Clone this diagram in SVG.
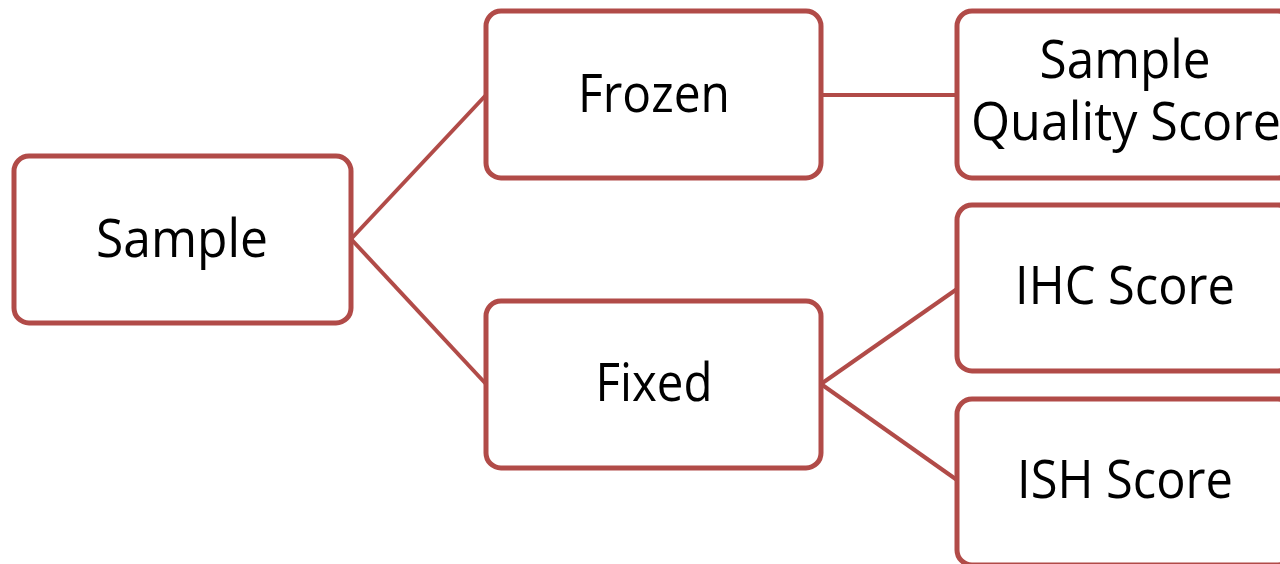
<svg xmlns="http://www.w3.org/2000/svg" width="1280" height="564" viewBox="0 0 1280 564">
  <style>
    .box { fill: #ffffff; stroke: #b14b48; stroke-width: 5; }
    .link { stroke: #b14b48; stroke-width: 4; fill: none; }
    .label { font-family: "Open Sans", "Noto Sans", "Liberation Sans", sans-serif; font-size: 53px; fill: #000000; text-anchor: middle; }
  </style>
  <rect width="1280" height="564" fill="#ffffff"/>

  <!-- connectors between the tree levels -->
  <g id="connectors">
    <line class="link" x1="351" y1="239" x2="486" y2="95"/>
    <line class="link" x1="351" y1="239" x2="486" y2="384"/>
    <line class="link" x1="821" y1="95" x2="957" y2="95"/>
    <line class="link" x1="821" y1="384" x2="957" y2="289"/>
    <line class="link" x1="821" y1="384" x2="957" y2="480"/>
  </g>

  <g id="node-sample">
    <rect class="box" x="14" y="156" width="337" height="167" rx="15"/>
    <text class="label" x="182" y="257" textLength="172" lengthAdjust="spacingAndGlyphs">Sample</text>
  </g>

  <g id="node-frozen">
    <rect class="box" x="486" y="11" width="335" height="167" rx="15"/>
    <text class="label" x="654" y="112" textLength="152" lengthAdjust="spacingAndGlyphs">Frozen</text>
  </g>

  <g id="node-fixed">
    <rect class="box" x="486" y="301" width="335" height="167" rx="15"/>
    <text class="label" x="654" y="401" textLength="117" lengthAdjust="spacingAndGlyphs">Fixed</text>
  </g>

  <g id="node-quality">
    <rect class="box" x="957" y="11" width="336" height="167" rx="15"/>
    <text class="label" x="1125" y="78" textLength="171" lengthAdjust="spacingAndGlyphs">Sample</text>
    <text class="label" x="1126" y="140" textLength="310" lengthAdjust="spacingAndGlyphs">Quality Score</text>
  </g>

  <g id="node-ihc">
    <rect class="box" x="957" y="205" width="336" height="166" rx="15"/>
    <text class="label" x="1125" y="304" textLength="220" lengthAdjust="spacingAndGlyphs">IHC Score</text>
  </g>

  <g id="node-ish">
    <rect class="box" x="957" y="399" width="336" height="166" rx="15"/>
    <text class="label" x="1125" y="498" textLength="216" lengthAdjust="spacingAndGlyphs">ISH Score</text>
  </g>
</svg>
